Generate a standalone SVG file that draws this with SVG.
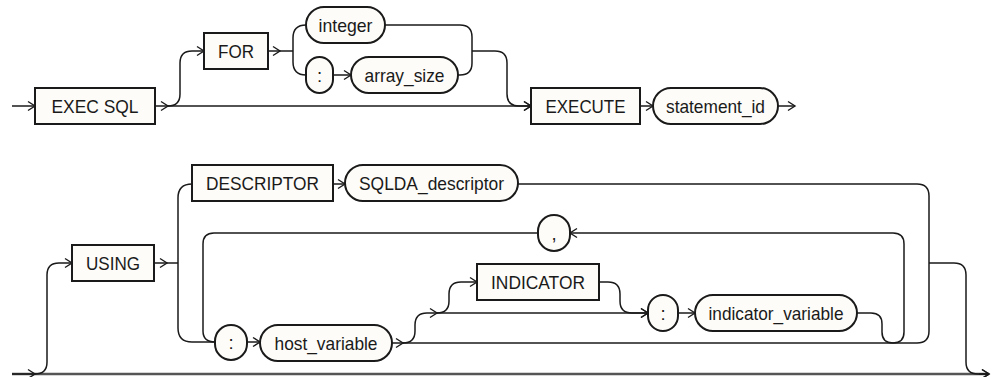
<svg xmlns="http://www.w3.org/2000/svg" width="997" height="377" viewBox="0 0 997 377">
<style>
.bx{fill:#fdfcf8;stroke:#1a1a1a;stroke-width:2}
.t{font-family:"Liberation Sans",Arial,sans-serif;font-size:18.5px;fill:#1a1a1a;text-anchor:middle}
.ln{fill:none;stroke:#1a1a1a;stroke-width:1.5}
.ar{fill:none;stroke:#1a1a1a;stroke-width:1.5;marker-end:url(#a)}
.bl{fill:none;stroke:#555;stroke-width:2.5}
</style>
<defs>
<marker id="a" markerUnits="userSpaceOnUse" markerWidth="12" markerHeight="12" refX="8" refY="5" orient="auto" overflow="visible">
<path d="M1,0.5 L8,5 L1,9.5" fill="none" stroke="#1a1a1a" stroke-width="1.4"/>
</marker>
</defs>
<rect width="997" height="377" fill="#ffffff"/>
<g id="connectors">
<path class="ar" d="M12 106 H35"/>
<path class="ar" d="M155 106 H168"/>
<path class="ar" d="M168 106 H531"/>
<path class="ar" d="M168 106 Q180 106 180 94 V63 Q180 51 192 51 H204"/>
<path class="ar" d="M268 51 H280"/>
<path class="ln" d="M280 51 H293"/>
<path class="ln" d="M306 25 Q293 25 293 38 V62 Q293 75 306 75"/>
<path class="ar" d="M333 75 H351"/>
<path class="ln" d="M385 25 H460 Q472 25 472 37 V63 Q472 75 460 75 H458"/>
<path class="ar" d="M472 51 H495 Q507 51 507 63 V94 Q507 106 519 106 H531"/>
<path class="ar" d="M640 106 H653"/>
<path class="ar" d="M778 106 H795"/>
<path class="bl" d="M12 374 H989"/>
<path class="ar" d="M12 374 H35"/>
<path class="ar" d="M979 374 H989"/>
<path class="ar" d="M35 374 Q47 374 47 362 V275 Q47 263 59 263 H72"/>
<path class="ar" d="M154 263 H167"/>
<path class="ln" d="M167 263 H178"/>
<path class="ln" d="M192 184 Q178 184 178 198 V328 Q178 342 192 342 H215"/>
<path class="ar" d="M333 184 H345"/>
<path class="ln" d="M518 184 H917 Q929 184 929 196 V331 Q929 343 917 343"/>
<path class="ar" d="M929 263 H954 Q966 263 966 275 V362 Q966 374 978 374 H989"/>
<path class="ar" d="M904 300 V244 Q904 233 893 233 H570"/>
<path class="ln" d="M538 233 H214 Q203 233 203 244 V331 Q203 342 215 342"/>
<path class="ar" d="M247 342 H260"/>
<path class="ar" d="M392 343 H403"/>
<path class="ln" d="M403 343 H917"/>
<path class="ar" d="M403 343 Q415 343 415 331 V325 Q415 313 427 313 H437"/>
<path class="ar" d="M437 313 H648"/>
<path class="ar" d="M437 313 Q449 313 449 301 V294 Q449 282 461 282 H477"/>
<path class="ar" d="M599 282 H608 Q620 282 620 294 V301 Q620 313 632 313 H648"/>
<path class="ar" d="M678 313 H695"/>
<path class="ln" d="M857 313 H871 Q882 313 882 324 V332 Q882 343 893 343 Q904 343 904 332 V300"/>
</g>
<g id="exec_sql"><rect class="bx" x="35" y="88" width="120" height="36"/><text class="t" x="95" y="112.5" textLength="87" lengthAdjust="spacingAndGlyphs">EXEC SQL</text></g>
<g id="for"><rect class="bx" x="204" y="33" width="64" height="36"/><text class="t" x="236" y="57.5" textLength="36" lengthAdjust="spacingAndGlyphs">FOR</text></g>
<g id="integer"><rect class="bx" x="306" y="7" width="79" height="36" rx="18"/><text class="t" x="345.5" y="31.5" textLength="54" lengthAdjust="spacingAndGlyphs">integer</text></g>
<g id="colon1"><rect class="bx" x="306" y="57" width="27" height="36" rx="13.5"/><text class="t" x="319.5" y="81.5">:</text></g>
<g id="array_size"><rect class="bx" x="351" y="57" width="107" height="36" rx="18"/><text class="t" x="404.5" y="81.5" textLength="80" lengthAdjust="spacingAndGlyphs">array_size</text></g>
<g id="execute"><rect class="bx" x="531" y="88" width="109" height="36"/><text class="t" x="585.5" y="112.5" textLength="80" lengthAdjust="spacingAndGlyphs">EXECUTE</text></g>
<g id="statement_id"><rect class="bx" x="653" y="88" width="125" height="36" rx="18"/><text class="t" x="715.5" y="112.5" textLength="99" lengthAdjust="spacingAndGlyphs">statement_id</text></g>
<g id="using"><rect class="bx" x="72" y="245" width="82" height="36"/><text class="t" x="113" y="269.5" textLength="54" lengthAdjust="spacingAndGlyphs">USING</text></g>
<g id="descriptor"><rect class="bx" x="192" y="165" width="141" height="36"/><text class="t" x="262.5" y="189.5" textLength="113" lengthAdjust="spacingAndGlyphs">DESCRIPTOR</text></g>
<g id="sqlda_descriptor"><rect class="bx" x="345" y="165" width="173" height="36" rx="18"/><text class="t" x="431.5" y="189.5" textLength="145" lengthAdjust="spacingAndGlyphs">SQLDA_descriptor</text></g>
<g id="comma"><rect class="bx" x="538" y="215" width="32" height="36" rx="16"/><text class="t" x="554" y="239.5">,</text></g>
<g id="colon2"><rect class="bx" x="215" y="325" width="32" height="35" rx="16"/><text class="t" x="231" y="348.5">:</text></g>
<g id="host_variable"><rect class="bx" x="260" y="325" width="132" height="36" rx="18"/><text class="t" x="326" y="349.5" textLength="103" lengthAdjust="spacingAndGlyphs">host_variable</text></g>
<g id="indicator"><rect class="bx" x="477" y="264" width="122" height="36"/><text class="t" x="538" y="288.5" textLength="94" lengthAdjust="spacingAndGlyphs">INDICATOR</text></g>
<g id="colon3"><rect class="bx" x="648" y="295" width="30" height="36" rx="15"/><text class="t" x="663" y="319.5">:</text></g>
<g id="indicator_variable"><rect class="bx" x="695" y="295" width="162" height="36" rx="18"/><text class="t" x="776" y="319.5" textLength="135" lengthAdjust="spacingAndGlyphs">indicator_variable</text></g>
</svg>
